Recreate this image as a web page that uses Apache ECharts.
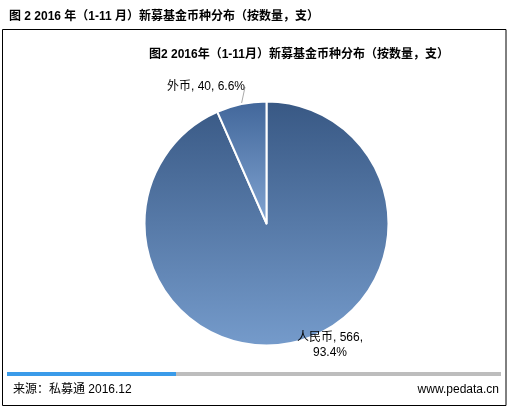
<!DOCTYPE html>
<html><head><meta charset="utf-8">
<script src="https://cdn.jsdelivr.net/npm/echarts@6/dist/echarts.min.js"></script>
<style>html,body{margin:0;padding:0;background:#fff}#c{width:509px;height:410px}</style>
</head><body><div id="c"></div>
<script>
var outerTitle = '图 2 2016 年（1-11 月）新募基金币种分布（按数量，支）';
var innerTitle = '图2 2016年（1-11月）新募基金币种分布（按数量，支）';
var categories = ['人民币', '外币'];
var values = [566, 40];
var percents = ['93.4%', '6.6%'];
var sourceText = '来源：私募通 2016.12';
var siteText = 'www.pedata.cn';

var font = 'Arial, "Liberation Sans", "Noto Sans CJK SC", sans-serif';
var chart = echarts.init(document.getElementById('c'), null, {renderer: 'canvas'});

function grad(top, bottom) {
  return new echarts.graphic.LinearGradient(0, 0, 0, 1, [
    {offset: 0, color: top}, {offset: 1, color: bottom}
  ]);
}
var colors = [grad('#385884', '#759bcb'), grad('#41669a', '#82a5d2')];

var data = categories.map(function (c, i) {
  return {
    name: c, value: values[i], pct: percents[i],
    itemStyle: {color: colors[i]},
    labelLine: {show: i !== 0}
  };
});

chart.setOption({
  animation: false,
  backgroundColor: '#fff',
  title: [
    {text: outerTitle, left: 4, top: 6,
     textStyle: {fontFamily: font, fontSize: 12, fontWeight: 'bold', color: '#000'}},
    {text: innerTitle, left: 294, top: 44, textAlign: 'center',
     textStyle: {fontFamily: font, fontSize: 12, fontWeight: 'bold', color: '#000'}}
  ],
  graphic: [
    {type: 'rect', shape: {x: 2.5, y: 29.5, width: 503.5, height: 376}, silent: true,
     style: {fill: 'none', stroke: '#000', lineWidth: 1}},
    {type: 'rect', shape: {x: 7, y: 372, width: 169, height: 4},
     style: {fill: '#3a9be9'}},
    {type: 'rect', shape: {x: 176, y: 372, width: 325, height: 4},
     style: {fill: '#bdbdbd'}},
    {type: 'text', left: 13, top: 384,
     style: {text: sourceText, fontFamily: font, fontSize: 12, fill: '#000'}},
    {type: 'text', right: 10, top: 384,
     style: {text: siteText, fontFamily: font, fontSize: 12, fill: '#000', textAlign: 'right'}}
  ],
  series: [{
    type: 'pie',
    center: [266.5, 223.5],
    radius: [0, 122],
    startAngle: 90,
    clockwise: true,
    data: data,
    itemStyle: {borderColor: '#fff', borderWidth: 2},
    label: {
      show: true,
      position: 'outside',
      fontFamily: font,
      fontSize: 12,
      color: '#000',
      lineHeight: 15,
      align: 'center',
      formatter: function (p) {
        if (p.dataIndex === 0) return p.name + ', ' + p.value + ',\n' + p.data.pct;
        return p.name + ', ' + p.value + ', ' + p.data.pct;
      }
    },
    labelLine: {length: 4, length2: 0, lineStyle: {color: '#aaa', width: 1}},
    labelLayout: function (p) {
      if (p.dataIndex === 0) return {x: 330, y: 345, align: 'center', verticalAlign: 'middle'};
      return {x: 206, y: 87, align: 'center', verticalAlign: 'middle'};
    },
    emphasis: {disabled: true}
  }]
});
</script></body></html>
